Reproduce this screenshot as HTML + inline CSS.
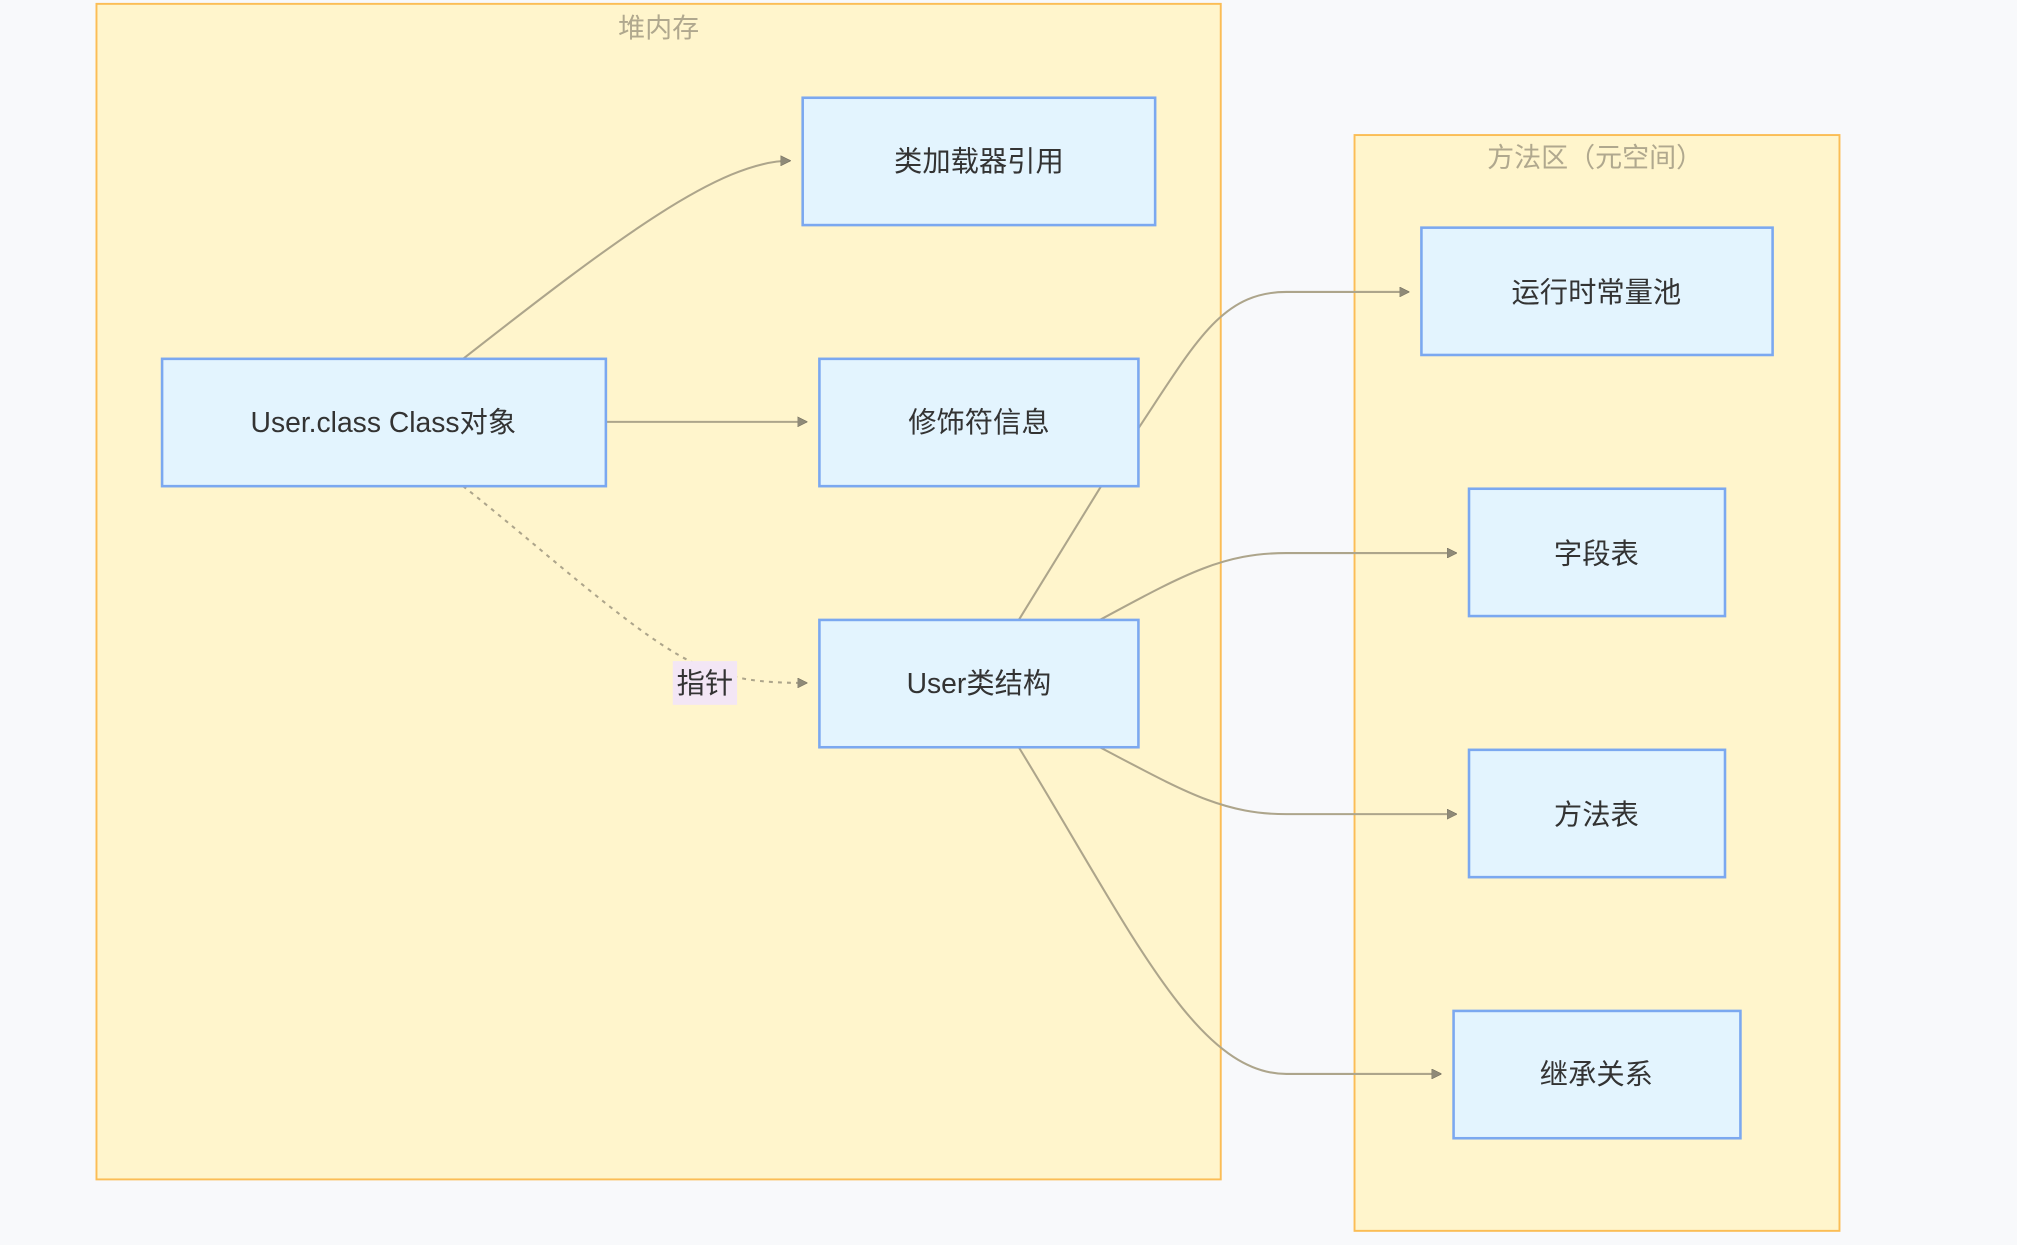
<!DOCTYPE html>
<html><head><meta charset="utf-8">
<style>
html,body{margin:0;padding:0;background:#f8f9fb;}
svg{display:block;}
text{font-family:"Liberation Sans","Noto Sans CJK SC",sans-serif;}
</style></head>
<body>
<svg width="2017" height="1245" viewBox="0 0 1568 968" preserveAspectRatio="none" xmlns="http://www.w3.org/2000/svg">
<defs>
<marker id="a" viewBox="0 0 10 10" refX="9" refY="5" markerWidth="8" markerHeight="8" markerUnits="userSpaceOnUse" orient="auto">
<path d="M0,0 L10,5 L0,10 z" fill="#8f8a78" stroke="#6f6a5a" stroke-width="0.5"/>
</marker>
</defs>
<rect x="0" y="0" width="1568" height="968" fill="#f8f9fb"/>
<rect x="75" y="3" width="874" height="914" fill="#fff5cc" stroke="#fbbd55" stroke-width="1.5"/>
<text x="512" y="29" font-size="21" fill="#b0a88e" text-anchor="middle">堆内存</text>
<rect x="1053" y="105" width="377" height="852" fill="#fff5cc" stroke="#fbbd55" stroke-width="1.5"/>
<text x="1240" y="130" font-size="21" fill="#b0a88e" text-anchor="middle">方法区（元空间）</text>

<g fill="none" stroke="#ada58b" stroke-width="1.6">
<path d="M360,279 C480,185 560,125 614,125" marker-end="url(#a)"/>
<path d="M471,328 L627,328" marker-end="url(#a)"/>
<path d="M360,378 C420,425 500,500 545,518 C570,528 590,531 627,531" stroke-dasharray="3,4" marker-end="url(#a)"/>
<path d="M885,333 C930,265 950,227 1000,227 L1095,227" marker-end="url(#a)"/>
<path d="M856,378 L792,482"/>
<path d="M855,482 C920,447 950,430 1000,430 L1132,430" marker-end="url(#a)"/>
<path d="M855,581 C920,615 950,633 1000,633 L1132,633" marker-end="url(#a)"/>
<path d="M792,581 C880,725 930,835 1000,835 L1120,835" marker-end="url(#a)"/>
</g>

<rect x="523" y="514" width="50" height="34" fill="#f3e6f5"/>
<text x="548" y="539" font-size="22" fill="#333" text-anchor="middle">指针</text>

<g fill="#e3f4fe" stroke="#7ba8f0" stroke-width="2">
<rect x="624" y="76" width="274" height="99"/>
<rect x="126" y="279" width="345" height="99"/>
<rect x="637" y="279" width="248" height="99"/>
<rect x="637" y="482" width="248" height="99"/>
<rect x="1105" y="177" width="273" height="99"/>
<rect x="1142" y="380" width="199" height="99"/>
<rect x="1142" y="583" width="199" height="99"/>
<rect x="1130" y="786" width="223" height="99"/>
</g>
<g font-size="22" fill="#333" text-anchor="middle">
<text x="761" y="133">类加载器引用</text>
<text x="298" y="336">User.class Class对象</text>
<text x="761" y="336">修饰符信息</text>
<text x="761" y="539">User类结构</text>
<text x="1241" y="235">运行时常量池</text>
<text x="1241" y="438">字段表</text>
<text x="1241" y="641">方法表</text>
<text x="1241" y="843">继承关系</text>
</g>
</svg>
</body></html>
